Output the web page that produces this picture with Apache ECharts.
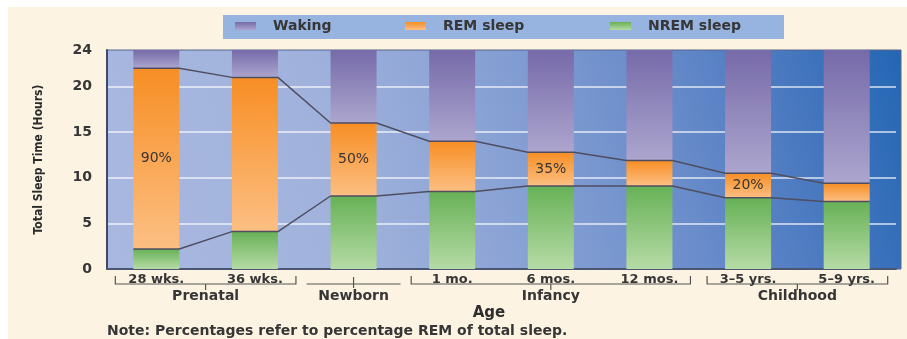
<!DOCTYPE html>
<html><head><meta charset="utf-8">
<script src="https://cdn.jsdelivr.net/npm/echarts@6/dist/echarts.min.js"></script>
<style>
html,body{margin:0;padding:0;background:#ffffff;}
#wrap{position:relative;width:907px;height:339px;overflow:hidden;}
#paper{position:absolute;left:8px;top:7px;right:0;bottom:0;background:#fdf3e2;}
#chart{position:absolute;left:0;top:0;width:907px;height:339px;}
</style></head><body>
<div id="wrap"><div id="paper"></div><div id="chart"></div></div>
<script>
// ---- data (hours per day) ----
const ageCategories = ['28 wks.', '36 wks.', 'Newborn', '1 mo.', '6 mos.', '12 mos.', '3\u20135 yrs.', '5\u20139 yrs.'];
const nremHours   = [2.2, 4.1, 8.0, 8.5, 9.1, 9.1, 7.8, 7.4];
const remHours    = [19.8, 16.9, 8.0, 5.5, 3.7, 2.8, 2.7, 2.0];
const wakingHours = [2.0, 3.0, 8.0, 10.0, 11.2, 12.1, 13.5, 14.6];
const remPctLabels = ['90%', '', '50%', '', '35%', '', '20%', ''];
const ageGroups = [
  { name: 'Prenatal', first: 0, last: 1 },
  { name: 'Newborn', first: 2, last: 2 },
  { name: 'Infancy', first: 3, last: 5 },
  { name: 'Childhood', first: 6, last: 7 }
];
const yMax = 24, yInterval = 5;
const noteText = 'Note: Percentages refer to percentage REM of total sleep.';

// ---- layout / style ----
const FONT = 'DejaVu Sans';
const TXT = '#363636';
const gridL = 107, gridR = 11, gridT = 50, gridB = 70;
const plotRight = 901;
const barWidth = 46;
const bandPx = (907 - gridL - gridR) / ageCategories.length;
const hw = (barWidth / 2) / bandPx;
const G = echarts.graphic.LinearGradient;

const totalHours = nremHours.map((v, i) => +(v + remHours[i]).toFixed(2));
const stepLine = arr => arr.flatMap((v, i) => [[i - hw, v], [i + hw, v]]);

const chart = echarts.init(document.getElementById('chart'));
const lineStyle = { color: '#4e4e60', width: 1.5 };

chart.setOption({
  animation: false,
  textStyle: { fontFamily: FONT },
  legend: [
    { left: 235, top: 19, data: ['Waking'] },
    { left: 405, top: 19, data: ['REM sleep'] },
    { left: 610, top: 19, data: ['NREM sleep'] }
  ].map(l => Object.assign(l, {
    icon: 'rect', itemWidth: 21, itemHeight: 8, padding: 0, z: 10,
    selectedMode: false,
    textStyle: { fontFamily: FONT, fontWeight: 'bold', fontSize: 14, color: TXT, padding: [0, 0, 0, 12] }
  })),
  grid: { left: gridL, right: gridR, top: gridT, bottom: gridB },
  xAxis: [{
    type: 'category', data: ageCategories,
    axisLine: { show: true, onZero: false, lineStyle: { color: '#4a5672', width: 2 } },
    axisTick: { show: false },
    axisLabel: {
      margin: 4, fontFamily: FONT, fontWeight: 'bold', fontSize: 13, color: TXT,
      formatter: v => (v === 'Newborn' ? '' : v)
    }
  }, {
    type: 'value', position: 'bottom', min: -0.5, max: ageCategories.length - 0.5, show: false,
    axisLine: { show: false, onZero: false }, axisLabel: { show: false }, axisTick: { show: false }, splitLine: { show: false }
  }],
  yAxis: {
    type: 'value', min: 0, max: yMax, interval: yInterval,
    name: 'Total Sleep Time (Hours)', nameLocation: 'middle', nameGap: 62, nameRotate: 90,
    nameTextStyle: { fontFamily: 'DejaVu Sans Condensed', fontWeight: 'bold', fontSize: 12, color: '#2a2a2a' },
    axisLine: { show: true, onZero: false, lineStyle: { color: '#3d4a6b', width: 2 } },
    axisTick: { show: false },
    axisLabel: { margin: 15, fontFamily: FONT, fontWeight: 'bold', fontSize: 14, color: TXT },
    splitLine: { show: true, showMaxLine: false, showMinLine: false, lineStyle: { color: 'rgba(255,255,255,0.8)', width: 1.5 } }
  },
  series: [
    {
      name: 'NREM sleep', type: 'bar', stack: 'day', barWidth: barWidth, data: nremHours,
      itemStyle: { color: new G(0, 0, 0, 1, [{ offset: 0, color: '#67b156' }, { offset: 1, color: '#b6dba6' }]) }
    },
    {
      name: 'REM sleep', type: 'bar', stack: 'day', barWidth: barWidth, data: remHours,
      itemStyle: { color: new G(0, 0, 0, 1, [{ offset: 0, color: '#f78e24' }, { offset: 1, color: '#fcbf83' }]) },
      label: {
        show: true, position: 'inside', fontFamily: FONT, fontSize: 14, color: '#3a3430',
        formatter: p => remPctLabels[p.dataIndex]
      }
    },
    {
      name: 'Waking', type: 'bar', stack: 'day', barWidth: barWidth, data: wakingHours,
      itemStyle: { color: new G(0, 0, 0, 1, [{ offset: 0, color: '#766aa9' }, { offset: 1, color: '#aca6ce' }]) }
    },
    {
      name: 'total-line', type: 'line', xAxisIndex: 1, data: stepLine(totalHours),
      symbol: 'none', silent: true, z: 5, lineStyle: lineStyle
    },
    {
      name: 'nrem-line', type: 'line', xAxisIndex: 1, data: stepLine(nremHours),
      symbol: 'none', silent: true, z: 5, lineStyle: lineStyle
    }
  ]
});

// ---- decorations derived from the axes ----
const baseY = chart.convertToPixel({ yAxisIndex: 0 }, 0);
const topY = chart.convertToPixel({ yAxisIndex: 0 }, yMax);
const cx = i => chart.convertToPixel({ xAxisIndex: 0 }, ageCategories[i]);
const stroke = { stroke: '#555', lineWidth: 1.2 };
const els = [];
els.push({
  type: 'rect', z: -10, silent: true,
  shape: { x: gridL, y: topY, width: plotRight - gridL, height: baseY - topY },
  style: { stroke: '#56648a', lineWidth: 1, fill: new G(0, 1, 1, 0, [
    { offset: 0, color: '#a9b8e0' }, { offset: 0.3, color: '#a0b2dc' },
    { offset: 0.5, color: '#88a1d4' }, { offset: 0.7, color: '#6a8cca' },
    { offset: 0.85, color: '#4a79c0' }, { offset: 1, color: '#2366b3' }]) }
});
els.push({
  type: 'rect', z: -10, silent: true,
  shape: { x: 223, y: 15, width: 561, height: 24 },
  style: { fill: '#97b3e0' }
});
ageGroups.forEach(g => {
  const a = cx(g.first), b = cx(g.last), mid = (a + b) / 2;
  const hy = baseY + 15;
  if (g.first === g.last) {
    els.push({ type: 'line', silent: true, shape: { x1: a - 47, y1: hy, x2: a + 47, y2: hy }, style: stroke });
    els.push({ type: 'line', silent: true, shape: { x1: mid, y1: baseY + 8, x2: mid, y2: baseY + 19 }, style: stroke });
  } else {
    els.push({ type: 'polyline', silent: true, shape: { points: [[a - 41, baseY + 7], [a - 41, hy], [b + 41, hy], [b + 41, baseY + 7]] }, style: Object.assign({ fill: null }, stroke) });
    els.push({ type: 'line', silent: true, shape: { x1: mid, y1: hy, x2: mid, y2: baseY + 21 }, style: stroke });
  }
  els.push({ type: 'text', silent: true, x: mid, y: baseY + 27,
    style: { text: g.name, fill: TXT, font: 'bold 14px "DejaVu Sans"', align: 'center', verticalAlign: 'middle' } });
});
els.push({ type: 'text', silent: true, x: 489, y: baseY + 44,
  style: { text: 'Age', fill: '#2e2e2e', font: 'bold 15px "DejaVu Sans"', align: 'center', verticalAlign: 'middle' } });
els.push({ type: 'text', silent: true, x: 107, y: baseY + 62,
  style: { text: noteText, fill: TXT, font: 'bold 14px "DejaVu Sans"', align: 'left', verticalAlign: 'middle' } });
chart.setOption({ graphic: { elements: els } });
</script>
</body></html>
